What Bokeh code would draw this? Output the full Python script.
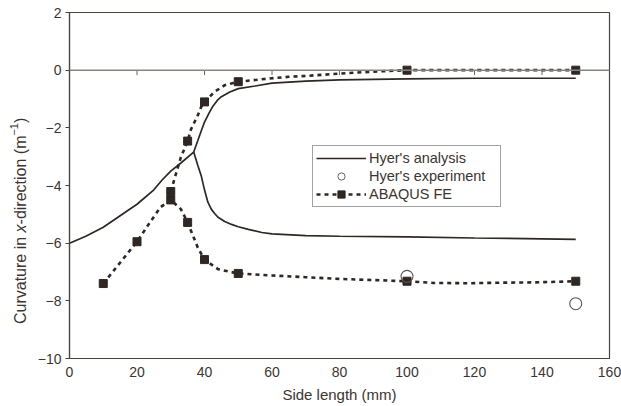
import math
from bokeh.plotting import figure
from bokeh.layouts import row
from bokeh.models import Legend, LegendItem, Span, Range1d, FixedTicker, Label
from bokeh.embed import file_html
from bokeh.resources import INLINE

FONT = "Liberation Sans"
INK = "#2e2723"
TEXT = "#3b3531"
FRAME = "#4a433d"

x_ticks = [0, 20, 40, 60, 80, 100, 120, 140, 160]
y_ticks = [2, 0, -2, -4, -6, -8, -10]

# Hyer's analysis (solid curve), branch rising towards zero
analysis_up_x = [0, 5, 10, 15, 20, 25, 27.5, 30, 33, 36.8, 38, 39, 40, 41.3, 42.5, 44, 45,
                 47.5, 50, 55, 60, 70, 80, 100, 120, 140, 150]
analysis_up_y = [-6.0, -5.75, -5.45, -5.05, -4.65, -4.15, -3.8, -3.5, -3.22, -2.84, -2.45,
                 -2.12, -1.8, -1.5, -1.25, -1.02, -0.92, -0.76, -0.64, -0.55, -0.45, -0.38,
                 -0.34, -0.3, -0.28, -0.28, -0.28]
# Hyer's analysis, branch falling away after the bifurcation
analysis_down_x = [36.8, 38, 39, 40, 41, 42, 43, 44, 46, 48, 50, 53, 57, 60, 70, 80, 100,
                   120, 140, 150]
analysis_down_y = [-2.84, -3.3, -3.65, -4.15, -4.58, -4.82, -4.97, -5.1, -5.25, -5.35, -5.43,
                   -5.52, -5.63, -5.68, -5.74, -5.76, -5.78, -5.82, -5.85, -5.87]

# Hyer's experiment
exp_x = [100, 150]
exp_y = [-7.15, -8.1]

# ABAQUS FE results
fe_low_x = [10, 20, 30, 35, 40, 50, 100, 150]
fe_low_y = [-7.4, -5.95, -4.5, -5.28, -6.57, -7.05, -7.32, -7.32]
fe_high_x = [30, 35, 40, 50, 100, 150]
fe_high_y = [-4.21, -2.46, -1.1, -0.4, 0.0, 0.0]

# smoothed FE trend lines
fe_low_curve_x = [10, 20, 24, 27, 30, 33, 35, 38, 40, 44, 47, 50, 60, 70, 80, 90, 100, 108,
                  118, 128, 138, 150]
fe_low_curve_y = [-7.4, -5.95, -5.25, -4.75, -4.5, -4.82, -5.28, -6.15, -6.57, -6.9, -6.98,
                  -7.05, -7.12, -7.18, -7.24, -7.28, -7.32, -7.38, -7.39, -7.37, -7.36, -7.32]
fe_high_curve_x = [30, 33, 35, 36, 38, 39, 40, 43, 46, 48, 50, 55, 60, 65, 70, 80, 90, 100,
                   110, 120, 130, 140, 150]
fe_high_curve_y = [-4.21, -3.02, -2.46, -2.05, -1.57, -1.28, -1.1, -0.75, -0.52, -0.46, -0.4,
                   -0.34, -0.28, -0.23, -0.2, -0.12, -0.05, 0.0, 0.0, 0.0, 0.0, 0.0, 0.0]

TITLE_W = 30  # width of the strip that carries the vertical axis title

p = figure(width=621 - TITLE_W, height=406, output_backend="svg", toolbar_location=None,
           x_range=Range1d(0, 160), y_range=Range1d(-10, 2),
           min_border_left=69 - TITLE_W, min_border_right=12, min_border_top=12,
           min_border_bottom=48)
p.background_fill_color = "white"
p.border_fill_color = "white"
p.outline_line_color = FRAME
p.outline_line_width = 1.2
p.grid.visible = False

# zero reference line with its small tick marks
p.add_layout(Span(location=0, dimension="width", line_color="#8a8480", line_width=1.5))
inner_ticks = x_ticks[1:-1]
p.segment(x0=inner_ticks, y0=[0] * len(inner_ticks), x1=inner_ticks,
          y1=[-0.17] * len(inner_ticks), line_color="#6a635e", line_width=1)

# Hyer's analysis
l_up = p.line(analysis_up_x, analysis_up_y, line_color=INK, line_width=1.7)
p.line(analysis_down_x, analysis_down_y, line_color=INK, line_width=1.7)

# ABAQUS FE
fe_line = p.line(fe_low_curve_x, fe_low_curve_y, line_color=INK, line_width=2.6, line_dash="4 4")
p.line(fe_high_curve_x, fe_high_curve_y, line_color=INK, line_width=2.6, line_dash="4 4")
fe_pts = p.scatter(fe_low_x, fe_low_y, marker="square", size=8, fill_color=INK, line_color=INK)
p.scatter(fe_high_x, fe_high_y, marker="square", size=8, fill_color=INK, line_color=INK)

# Hyer's experiment
p.scatter(exp_x, exp_y, marker="circle", size=12, fill_color=None, line_color="#5c5652",
          line_width=1.1)
# smaller hollow circle used only as the legend key
exp_key = p.scatter(x=[float("nan")], y=[float("nan")], marker="circle", size=8,
                    fill_color=None, line_color="#6a6460", line_width=1)

legend = Legend(items=[
    LegendItem(label="Hyer's analysis", renderers=[l_up]),
    LegendItem(label="Hyer's experiment", renderers=[exp_key]),
    LegendItem(label="ABAQUS FE", renderers=[fe_line, fe_pts]),
], location=(243, 151), margin=0, padding=3, spacing=0,
    glyph_width=50, glyph_height=18, label_height=18, label_width=128, label_standoff=3,
    label_text_font=FONT, label_text_font_size="14.5px", label_text_color=TEXT,
    border_line_color=FRAME, border_line_width=1, background_fill_alpha=1)
p.add_layout(legend)

def minus(v):
    return str(v).replace("-", "\u2212")

p.xaxis.ticker = FixedTicker(ticks=x_ticks)
p.yaxis.ticker = FixedTicker(ticks=y_ticks)
p.yaxis.major_label_overrides = {v: minus(v) for v in y_ticks}
p.xaxis.axis_label = "Side length (mm)"

for ax in (p.xaxis[0], p.yaxis[0]):
    ax.axis_line_color = FRAME
    ax.axis_line_width = 1.2
    ax.major_label_text_font = FONT
    ax.major_label_text_font_size = "14px"
    ax.major_label_text_color = TEXT
    ax.axis_label_text_font = FONT
    ax.axis_label_text_font_size = "15px"
    ax.axis_label_text_font_style = "normal"
    ax.axis_label_text_color = TEXT
    ax.minor_tick_line_color = None

p.yaxis.major_tick_line_color = FRAME
p.yaxis.major_tick_out = 4
p.yaxis.major_tick_in = 0
p.yaxis.major_label_standoff = 4
p.xaxis.major_tick_line_color = None
p.xaxis.major_tick_out = 0
p.xaxis.major_tick_in = 0
p.xaxis.major_label_standoff = 8
p.xaxis.axis_label_standoff = 6

# narrow strip holding the vertical axis title, written in pieces so the "x" is italic
t = figure(width=TITLE_W, height=406, output_backend="svg", toolbar_location=None,
           x_range=Range1d(0, 1), y_range=Range1d(0, 1), min_border=0,
           x_axis_location=None, y_axis_location=None)
t.outline_line_color = None
t.grid.visible = False
t.background_fill_color = "white"
t.border_fill_color = "white"

F = 16.0
ylab_x = 20           # screen px from the strip's left edge
ylab_start = 34.5     # screen px above the (row-aligned) frame bottom
pieces = [("Curvature in ", "normal", 5.724), ("x", "italic", 0.5),
          ("-direction (m", "normal", 5.556)]
pos = ylab_start
for txt, style, em in pieces:
    t.add_layout(Label(x=ylab_x, y=pos, x_units="screen", y_units="screen", text=txt,
                       angle=math.pi / 2, text_align="left", text_baseline="middle",
                       text_font=FONT, text_font_size=f"{F}px", text_font_style=style,
                       text_color=TEXT))
    pos += em * F
t.add_layout(Label(x=ylab_x - 0.38 * F, y=pos, x_units="screen", y_units="screen",
                   text="\u22121", angle=math.pi / 2, text_align="left",
                   text_baseline="middle", text_font=FONT, text_font_size=f"{0.68 * F}px",
                   text_color=TEXT))
pos += 1.14 * 0.68 * F
t.add_layout(Label(x=ylab_x, y=pos, x_units="screen", y_units="screen", text=")",
                   angle=math.pi / 2, text_align="left", text_baseline="middle",
                   text_font=FONT, text_font_size=f"{F}px", text_color=TEXT))

page = row(t, p, spacing=0)
open("out.html", "w").write(file_html(page, INLINE))
